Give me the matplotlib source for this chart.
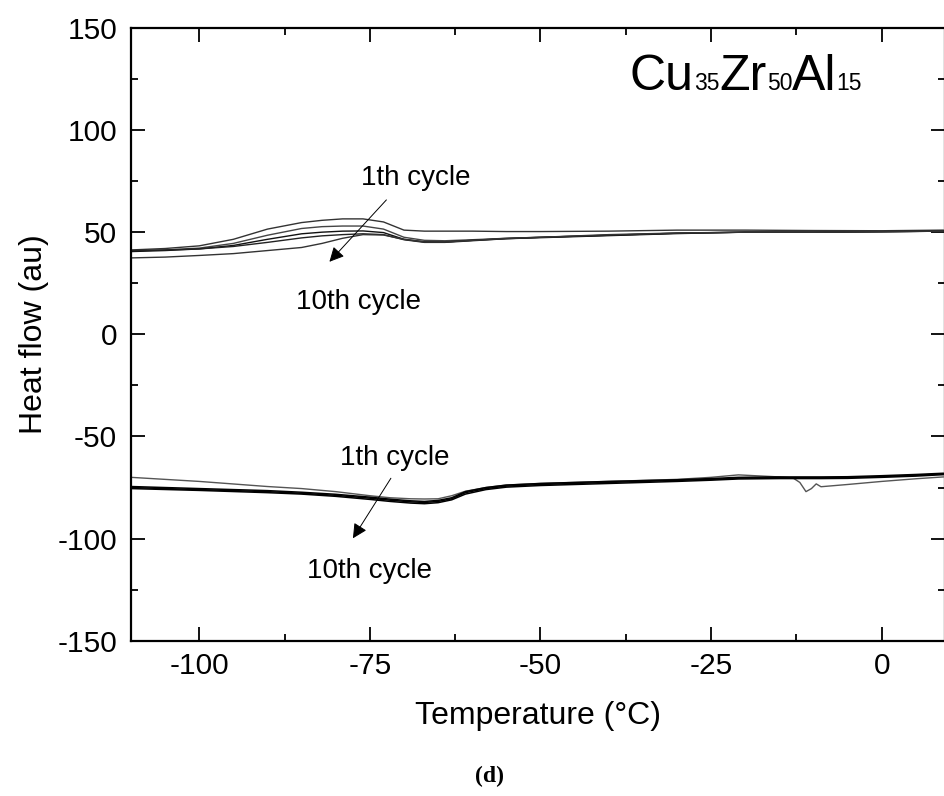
import numpy as np
import matplotlib.pyplot as plt
from matplotlib.offsetbox import TextArea, HPacker, AnchoredOffsetbox
from matplotlib.ticker import MultipleLocator

plt.rcParams['font.family'] = ['Liberation Sans', 'DejaVu Sans']
plt.rcParams['axes.unicode_minus'] = False

# upper group (heating), 5 cycles
T_UP = [-110, -105, -100, -95, -90, -85, -82, -79, -76, -73, -70, -67, -64, -60,
        -55, -50, -40, -30, -20, -10, 0, 9]
UP_1 = [41.3, 42, 43.3, 46.5, 51.5, 54.7, 55.8, 56.5, 56.5, 55, 51, 50.5, 50.5, 50.5,
        50.3, 50.3, 50.5, 51, 51, 50.8, 50.7, 51]
UP_2 = [40.8, 41.3, 42.2, 44.5, 48.5, 51.8, 52.7, 53, 53, 51.5, 47.5, 46, 45.8, 46.3,
        47, 47.5, 48.5, 49.5, 50, 50, 50.2, 50.5]
UP_3 = [40.5, 41, 41.8, 43.5, 46.5, 49.2, 50, 50.5, 50.6, 49.8, 46.5, 45.3, 45.2, 46,
        46.8, 47.3, 48.3, 49.3, 50, 50, 50.2, 50.5]
UP_4 = [41, 41.3, 41.8, 43, 45, 47.2, 48.2, 48.8, 49.2, 48.8, 46.3, 45, 45, 45.8,
        46.8, 47.5, 48.5, 49.5, 50, 50, 50.3, 50.5]
UP_5 = [37.4, 37.8, 38.6, 39.5, 41, 42.5, 44.5, 47, 48.8, 48.6, 46.5, 45.2, 45.2, 46,
        47, 47.5, 48.8, 49.6, 50, 50, 50.3, 50.5]

# lower group (cooling)
T_LO = [-110, -100, -90, -85, -80, -75, -72, -69, -67, -65, -63, -61, -58, -55,
        -50, -40, -30, -25, -21, -15, -13, -12, -11.1, -10.3, -9.6, -8.9, -5, 0, 5, 9]
LO_G = [-70, -72, -74.5, -75.5, -77, -79, -80, -80.5, -80.6, -80.5, -79, -76.8, -75, -73.8,
        -73, -72, -71, -70, -68.8, -69.8, -70.3, -72.5, -77, -75.5, -73.2, -74.6, -73.5, -72, -70.7, -69.8]
LO_1 = [-75, -76, -77, -77.8, -78.8, -80.2, -81.2, -82, -82.3, -81.8, -80.5, -77.5, -75.5, -74.3,
        -73.5, -72.5, -71.5, -71, -70.4, -70.2, -70.2, -70.2, -70.2, -70.2, -70.2, -70.2, -70.1, -69.6, -69, -68.3]
LO_2 = [-74.5, -75.5, -76.5, -77.3, -78.3, -79.7, -80.7, -81.5, -81.8, -81.3, -80, -77, -75, -73.8,
        -73, -72, -71.2, -70.6, -70, -69.8, -69.8, -69.8, -69.8, -69.8, -69.8, -69.8, -69.7, -69.2, -68.6, -68]
LO_3 = [-75.5, -76.4, -77.5, -78.2, -79.3, -80.8, -81.8, -82.6, -82.9, -82.4, -81, -78.2, -76, -74.8,
        -74, -73, -72, -71.4, -70.8, -70.6, -70.6, -70.6, -70.6, -70.6, -70.6, -70.6, -70.5, -70, -69.4, -68.7]

fig = plt.figure(figsize=(9.45, 7.96), dpi=100)
ax = fig.add_axes([0.1386, 0.195, 0.8609, 0.770])

for y, c in zip([UP_1, UP_2, UP_3, UP_4, UP_5], ['#333333', '#444444', '#111111', '#222222', '#333333']):
    ax.plot(T_UP, y, color=c, lw=1.0)
ax.plot(T_LO, LO_G, color='#555555', lw=1.0)
for y in [LO_1, LO_2, LO_3]:
    ax.plot(T_LO, y, color='black', lw=1.1)

ax.set_xlim(-110, 9.2)
ax.set_ylim(-150, 150)
ax.xaxis.set_major_locator(MultipleLocator(25))
ax.xaxis.set_minor_locator(MultipleLocator(12.5))
ax.yaxis.set_major_locator(MultipleLocator(50))
ax.yaxis.set_minor_locator(MultipleLocator(25))
ax.tick_params(which='both', direction='in', top=True, right=True, labelsize=21.5, width=1.3)
ax.tick_params(which='major', length=10)
ax.tick_params(which='minor', length=5)
ax.tick_params(axis='x', which='both', pad=8)
ax.tick_params(axis='y', which='both', pad=10)
for s in ax.spines.values():
    s.set_linewidth(1.6)

ax.set_xlabel('Temperature (°C)', fontsize=23, labelpad=15)
ax.set_ylabel('Heat flow (au)', fontsize=23, labelpad=6)

# annotations
arr = dict(arrowstyle='-|>', color='black', lw=0.7, mutation_scale=22)
ax.annotate('', xy=(-81.2, 34.5), xytext=(-72.3, 66.8), arrowprops=arr)
ax.annotate('', xy=(-77.7, -101.0), xytext=(-71.7, -69.3), arrowprops=arr)
ax.text(-68.3, 76.6, '1th cycle', fontsize=20, ha='center', va='center')
ax.text(-76.7, 15.6, '10th cycle', fontsize=20, ha='center', va='center')
ax.text(-71.3, -60.4, '1th cycle', fontsize=20, ha='center', va='center')
ax.text(-75.1, -115.8, '10th cycle', fontsize=20, ha='center', va='center')

# alloy label with baseline-aligned small numbers
parts = [('Cu', 36), ('35', 16.5), ('Zr', 36), ('50', 16.5), ('Al', 36), ('15', 16.5)]
boxes = [TextArea(t, textprops=dict(fontsize=s, color='black')) for t, s in parts]
pack = HPacker(children=boxes, align='baseline', pad=0, sep=0)
ab = AnchoredOffsetbox(loc='center', child=pack, frameon=False,
                       bbox_to_anchor=(746 / 945, 1 - 77 / 796), bbox_transform=fig.transFigure)
fig.add_artist(ab)

fig.text(490 / 945, 1 - 776 / 796, '(d)', fontsize=17, fontweight='bold',
         family='Liberation Serif', ha='center', va='center')

fig.savefig('out.png', dpi=100)
